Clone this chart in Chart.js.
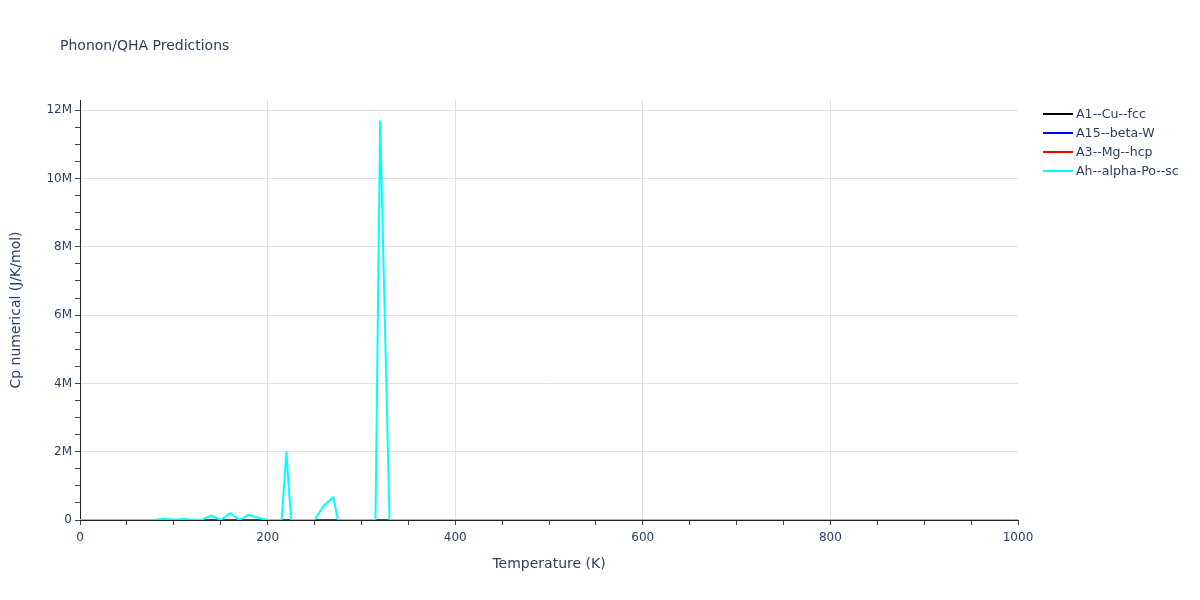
<!DOCTYPE html>
<html>
<head>
<meta charset="utf-8">
<script src="https://cdn.jsdelivr.net/npm/chart.js@4.4.1/dist/chart.umd.min.js"></script>
<style>
  html, body { margin: 0; padding: 0; background: #fff; }
  #wrap { position: relative; width: 1200px; height: 600px; font-family: "DejaVu Sans", verdana, arial, sans-serif; color: #2a3f5f; }
  #title { position: absolute; left: 60px; top: 37px; font-size: 14px; }
  #legend { position: absolute; left: 1043px; top: 104px; font-size: 12.6px; }
  .leg-item { display: flex; align-items: center; height: 19px; }
  .leg-line { width: 30px; height: 2px; margin-right: 3px; }
</style>
</head>
<body>
<div id="wrap">
  <canvas id="chart" width="1200" height="600"></canvas>
  <div id="title">Phonon/QHA Predictions</div>
  <div id="legend"></div>
</div>
<script>
// Temperature sample points (K)
var temps = [0, 10, 20, 30, 40, 50, 60, 70, 80, 90,
             100, 110, 120, 130, 140, 150, 160, 170, 180, 190,
             200, 210, 215, 220, 225, 230, 240, 250, 260, 270,
             275, 280, 290, 300, 310, 315, 320, 330, 340, 350,
             400, 500, 600, 700, 800, 900, 1000];

// Cp numerical (J/K/mol) per structure
var cpCuFcc = [0, 0.1, 0.8, 2.5, 5.2, 8.0, 10.6, 12.8, 14.6, 16.0,
               17.2, 18.1, 18.9, 19.5, 20.0, 20.4, 20.8, 21.1, 21.4, 21.6,
               21.8, 22.0, 22.1, 22.2, 22.3, 22.4, 22.5, 22.6, 22.7, 22.8,
               22.85, 22.9, 23.0, 23.05, 23.1, 23.12, 23.15, 23.2, 23.25, 23.3,
               23.5, 23.8, 24.0, 24.1, 24.2, 24.3, 24.4];
var cpBetaW = [0, 0.05, 0.4, 1.4, 3.2, 5.3, 7.4, 9.3, 11.0, 12.5,
               13.8, 14.9, 15.9, 16.7, 17.4, 18.0, 18.5, 19.0, 19.4, 19.8,
               20.1, 20.4, 20.5, 20.6, 20.7, 20.8, 21.0, 21.2, 21.3, 21.5,
               21.55, 21.6, 21.7, 21.8, 21.9, 21.95, 22.0, 22.1, 22.2, 22.3,
               22.6, 23.0, 23.3, 23.5, 23.7, 23.8, 23.9];
var cpMgHcp = [0, 0.2, 1.6, 4.4, 7.8, 10.9, 13.4, 15.4, 16.9, 18.1,
               19.1, 19.8, 20.4, 20.9, 21.3, 21.6, 21.9, 22.1, 22.3, 22.5,
               22.6, 22.7, 22.75, 22.8, 22.85, 22.9, 23.0, 23.1, 23.2, 23.3,
               23.32, 23.35, 23.4, 23.45, 23.5, 23.52, 23.55, 23.6, 23.65, 23.7,
               23.9, 24.2, 24.4, 24.6, 24.7, 24.8, 24.9];
var cpAlphaPo = [0, 0, 0, 0, 0, 0, 0, 0, 5000, 40000,
                 8000, 30000, 5000, 10000, 130000, 0, 200000, 0, 150000, 60000,
                 0, 0, 0, 2010000, 0, 0, 0, 0, 420000, 670000,
                 0, 0, 0, 0, 0, 0, 11700000, 0, 0, 0,
                 0, 0, 0, 0, 0, 0, 0];

var seriesNames  = ['A1--Cu--fcc', 'A15--beta-W', 'A3--Mg--hcp', 'Ah--alpha-Po--sc'];
var seriesColors = ['#000000', '#0000ff', '#ff0000', '#00ffff'];
var seriesData   = [cpCuFcc, cpBetaW, cpMgHcp, cpAlphaPo];

var xTickValues = [];
for (var t = 0; t <= 1000; t += 50) xTickValues.push(t);
var yTickValues = [];
for (var c = 0; c <= 12000000; c += 500000) yTickValues.push(c);

function toPoints(values) {
  return temps.map(function (tk, i) { return { x: tk, y: values[i] }; });
}

Chart.defaults.font.family = '"DejaVu Sans", verdana, arial, sans-serif';
Chart.defaults.color = '#2a3f5f';

var datasets = seriesNames.map(function (name, i) {
  return {
    label: name,
    data: toPoints(seriesData[i]),
    borderColor: seriesColors[i],
    backgroundColor: seriesColors[i],
    borderWidth: 2,
    pointRadius: 0,
    tension: 0,
    fill: false,
    order: seriesNames.length - 1 - i
  };
});

new Chart(document.getElementById('chart'), {
  type: 'line',
  data: { datasets: datasets },
  options: {
    responsive: false,
    animation: false,
    devicePixelRatio: 1,
    layout: { padding: { left: 0, top: 100, right: 182, bottom: 0 } },
    plugins: { legend: { display: false }, tooltip: { enabled: false } },
    scales: {
      x: {
        type: 'linear',
        min: 0,
        max: 1000,
        afterBuildTicks: function (s) { s.ticks = xTickValues.map(function (v) { return { value: v }; }); },
        afterFit: function (s) { s.height = 80; },
        ticks: {
          autoSkip: false,
          maxRotation: 0,
          padding: 6,
          font: { size: 12 },
          callback: function (v) { return v % 200 === 0 ? String(v) : ''; }
        },
        grid: {
          color: function (ctx) {
            var v = ctx.tick && ctx.tick.value;
            return (v % 200 === 0 && v !== 0 && v !== 1000) ? '#e0e0e0' : 'rgba(0,0,0,0)';
          },
          tickColor: '#444',
          tickLength: 5,
          lineWidth: 1
        },
        border: { display: true, color: '#222', width: 1 },
        title: { display: true, text: 'Temperature (K)', font: { size: 14 }, padding: { top: 0, bottom: 27 } }
      },
      y: {
        type: 'linear',
        min: 0,
        max: 12300000,
        afterBuildTicks: function (s) { s.ticks = yTickValues.map(function (v) { return { value: v }; }); },
        afterFit: function (s) { s.width = 80; },
        ticks: {
          autoSkip: false,
          padding: 3,
          font: { size: 12 },
          callback: function (v) {
            if (v % 2000000 !== 0) return '';
            return v === 0 ? '0' : (v / 1000000) + 'M';
          }
        },
        grid: {
          color: function (ctx) {
            var v = ctx.tick && ctx.tick.value;
            return (v % 2000000 === 0 && v !== 0) ? '#e0e0e0' : 'rgba(0,0,0,0)';
          },
          tickColor: '#444',
          tickLength: 5,
          lineWidth: 1
        },
        border: { display: true, color: '#222', width: 1 },
        title: { display: true, text: 'Cp numerical (J/K/mol)', font: { size: 14 }, padding: { top: 8, bottom: 0 } }
      }
    }
  }
});

// legend, same order as the traces
var legendHtml = seriesNames.map(function (name, i) {
  return '<div class="leg-item"><span class="leg-line" style="background:' + seriesColors[i] + '"></span>' + name + '</div>';
}).join('');
document.getElementById('legend').innerHTML = legendHtml;
</script>
</body>
</html>
